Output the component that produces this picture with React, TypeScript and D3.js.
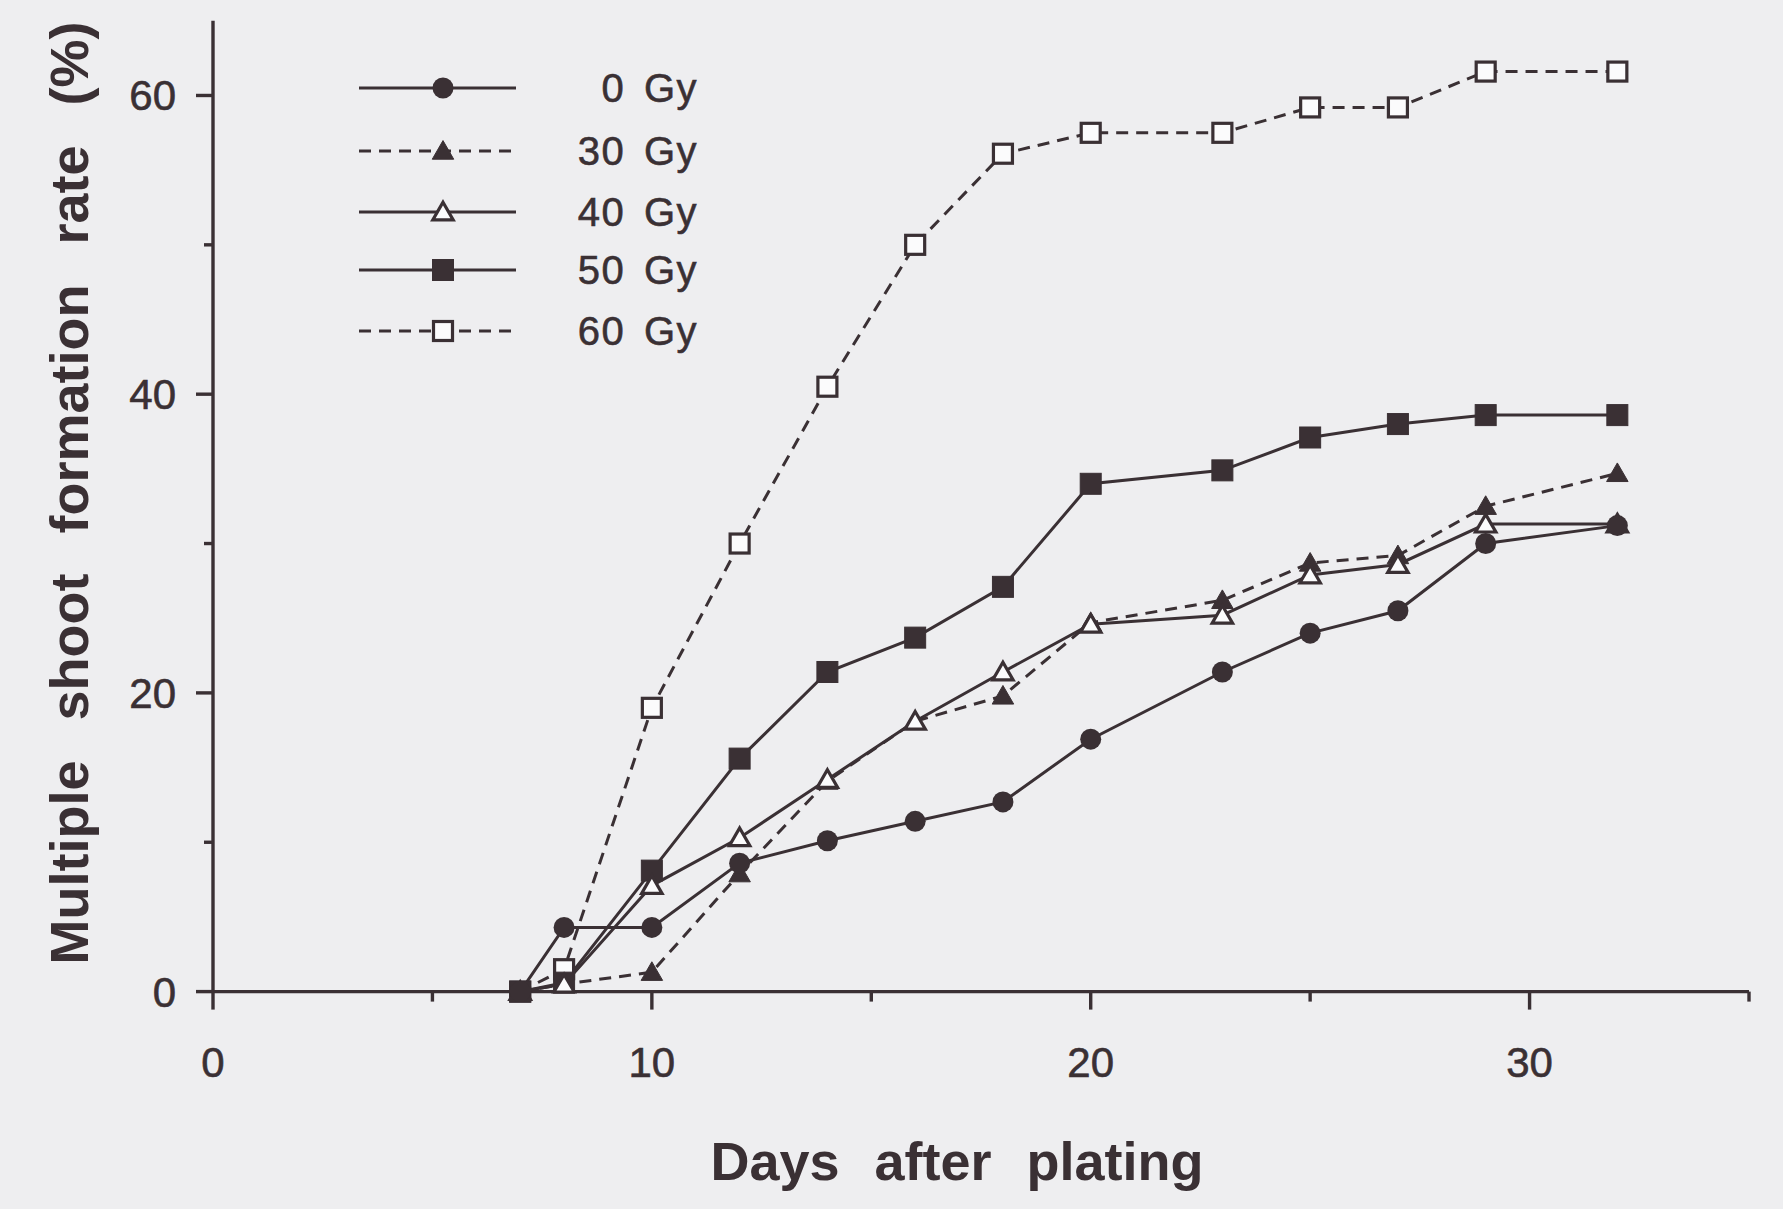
import React from 'react';
import * as d3 from 'd3';

// days after plating (x values shared by all series)
const days = [7, 8, 10, 12, 14, 16, 18, 20, 23, 25, 27, 29, 32];

// multiple shoot formation rate (%) per dose
const gy0 = [0, 4.3, 4.3, 8.6, 10.1, 11.4, 12.7, 16.9, 21.4, 24.0, 25.5, 30.0, 31.2];
const gy30 = [0, 0.5, 1.3, 7.9, 14.1, 18.1, 19.8, 24.7, 26.2, 28.7, 29.2, 32.5, 34.7];
const gy40 = [0, 0.5, 7.1, 10.3, 14.2, 18.1, 21.4, 24.6, 25.2, 27.9, 28.6, 31.3, 31.3];
const gy50 = [0, 0.6, 8.1, 15.6, 21.4, 23.7, 27.1, 34.0, 34.9, 37.1, 38.0, 38.6, 38.6];
const gy60 = [0, 1.5, 19.0, 30.0, 40.5, 50.0, 56.1, 57.5, 57.5, 59.2, 59.2, 61.6, 61.6];

const seriesNames = ['0 Gy', '30 Gy', '40 Gy', '50 Gy', '60 Gy'];
const seriesValues = [gy0, gy30, gy40, gy50, gy60];
const seriesDashed = [false, true, false, false, true];
const seriesMarker = ['circle', 'triangleFilled', 'triangleOpen', 'squareFilled', 'squareOpen'];

const xTicks = [0, 10, 20, 30];
const xMinorTicks = [5, 15, 25, 35];
const yTicks = [0, 20, 40, 60];
const yMinorTicks = [10, 30, 50];

const W = 1783;
const H = 1209;
const INK = '#3a3034';
const BG = '#eeeef0';

const x = d3.scaleLinear().domain([0, 35]).range([213, 1749]);
const y = d3.scaleLinear().domain([0, 65]).range([991.6, 20.8]);

const Marker = ({ kind, cx, cy }: { kind: string; cx: number; cy: number }) => {
  if (kind === 'circle') {
    return <circle cx={cx} cy={cy} r={10.5} fill={INK} />;
  }
  if (kind === 'squareFilled' || kind === 'squareOpen') {
    const open = kind === 'squareOpen';
    const s = open ? 19 : 21;
    return (
      <rect x={cx - s / 2} y={cy - s / 2} width={s} height={s}
        fill={open ? '#fbfbfc' : INK} stroke={INK} strokeWidth={open ? 3.2 : 1} />
    );
  }
  const open = kind === 'triangleOpen';
  const tri = d3.symbol().type(d3.symbolTriangle).size(open ? 180 : 200)();
  return (
    <path d={tri as string} transform={`translate(${cx},${cy + 2})`}
      fill={open ? '#fbfbfc' : INK} stroke={INK} strokeWidth={open ? 3.2 : 1}
      strokeLinejoin="miter" />
  );
};

export default function App() {
  const line = d3.line<number>()
    .x((d, i) => x(days[i]))
    .y(d => y(d));

  const legendRows = [88, 151, 212, 270, 331];

  return (
    <svg width={W} height={H}
      style={{ position: 'absolute', left: 0, top: 0, display: 'block' }}
      fontFamily="'Liberation Sans', Arial, sans-serif">
      <rect x={0} y={0} width={W} height={H} fill={BG} />

      {/* axes */}
      <g stroke={INK} strokeWidth={3.4} fill="none">
        <line x1={x(0)} x2={x(0)} y1={y(0)} y2={y(65)} />
        <line x1={x(0)} x2={x(35)} y1={y(0)} y2={y(0)} />
        {[...xTicks, ...xMinorTicks].map(t => (
          <line key={'xt' + t} x1={x(t)} x2={x(t)} y1={y(0)} y2={y(0) + (xTicks.includes(t) ? 18 : 10)} />
        ))}
        {[...yTicks, ...yMinorTicks].map(t => (
          <line key={'yt' + t} x1={x(0)} x2={x(0) - (yTicks.includes(t) ? 17 : 9)} y1={y(t)} y2={y(t)} />
        ))}
      </g>
      <g fill={INK} stroke={INK} strokeWidth={0.6} fontSize={42}>
        {xTicks.map(t => (
          <text key={'xl' + t} x={x(t)} y={1077} textAnchor="middle">{t}</text>
        ))}
        {yTicks.map(t => (
          <text key={'yl' + t} x={176} y={y(t) + 15} textAnchor="end">{t}</text>
        ))}
      </g>

      {/* axis titles */}
      <text x={957} y={1180} textAnchor="middle" fontSize={54} fontWeight="bold"
        fill={INK} wordSpacing={20}>Days after plating</text>
      <text transform="translate(88,493) rotate(-90)" textAnchor="middle" fontSize={54}
        fontWeight="bold" fill={INK} wordSpacing={25}>Multiple shoot formation rate (%)</text>

      {/* series lines */}
      {seriesValues.map((vals, si) => (
        <path key={'l' + si} d={line(vals) as string} fill="none" stroke={INK} strokeWidth={3}
          strokeDasharray={seriesDashed[si] ? '12,8' : undefined} />
      ))}
      {/* markers */}
      {[4, 3, 1, 2, 0].map(si => (
        <g key={'m' + si}>
          {seriesValues[si].map((v, i) => (
            <Marker key={i} kind={seriesMarker[si]} cx={x(days[i])} cy={y(v)} />
          ))}
        </g>
      ))}

      {/* legend */}
      {seriesNames.map((name, si) => (
        <g key={'lg' + si}>
          <line x1={359} x2={516} y1={legendRows[si]} y2={legendRows[si]} stroke={INK} strokeWidth={3}
            strokeDasharray={seriesDashed[si] ? '12,8' : undefined} />
          <Marker kind={seriesMarker[si]} cx={443} cy={legendRows[si]} />
          <text x={698} y={legendRows[si] + 14} textAnchor="end" fontSize={40} fill={INK}
            stroke={INK} strokeWidth={0.6} letterSpacing={1.5} wordSpacing={6}>{name}</text>
        </g>
      ))}
    </svg>
  );
}
